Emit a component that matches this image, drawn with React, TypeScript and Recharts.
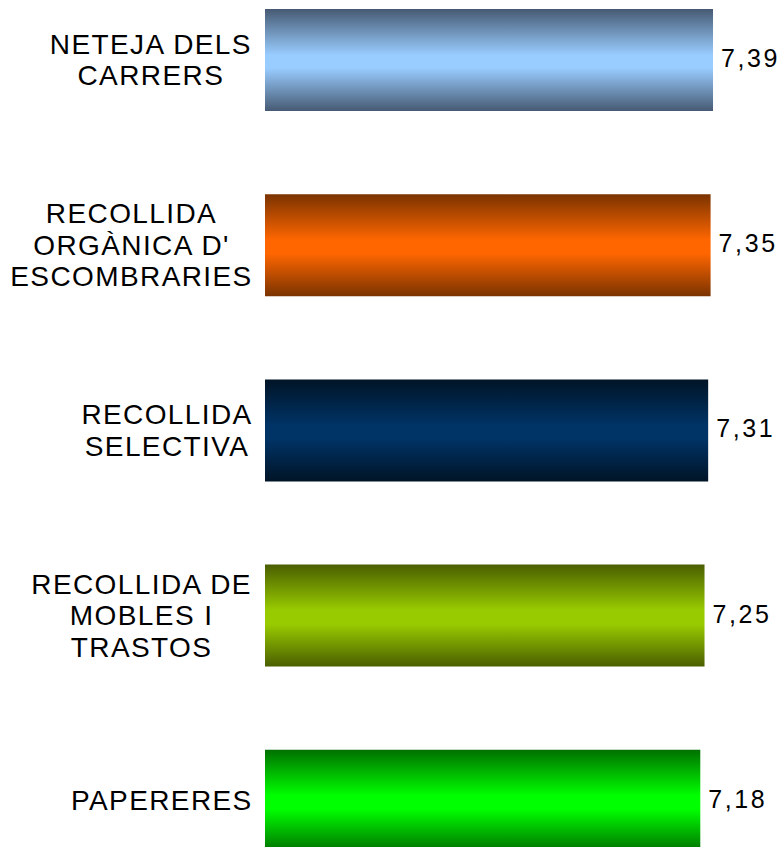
import { BarChart, Bar, XAxis, YAxis, Cell, LabelList } from 'recharts';

const labelLines = [
  ['NETEJA DELS', 'CARRERS'],
  ['RECOLLIDA', "ORGÀNICA D'", 'ESCOMBRARIES'],
  ['RECOLLIDA', 'SELECTIVA'],
  ['RECOLLIDA DE', 'MOBLES I', 'TRASTOS'],
  ['PAPERERES'],
];
const scores = [7.39, 7.35, 7.31, 7.25, 7.18];
const edgeColors = ['#465a73', '#7a3300', '#001426', '#4a5e00', '#007000'];
const midColors = ['#99ccff', '#ff6600', '#003366', '#99cc00', '#00ff00'];

const data = labelLines.map((lines, i) => ({ name: lines.join(' '), value: scores[i] }));

const FONT = "'Liberation Sans', Arial, sans-serif";
const LABEL_SIZE = 28;
const LABEL_SPACING = 1.4;
const LINE_H = 31.5;
const CAP_H = 20;
const LABEL_RIGHT = 252;

let ctx: CanvasRenderingContext2D | null = null;
function textWidth(s: string) {
  if (!ctx) ctx = document.createElement('canvas').getContext('2d');
  if (!ctx) return s.length * LABEL_SIZE * 0.6;
  ctx.font = `${LABEL_SIZE}px 'Liberation Sans'`;
  return ctx.measureText(s).width + LABEL_SPACING * (s.length - 1);
}

function CategoryTick(props: any) {
  const { y, index } = props;
  const lines = labelLines[index] || [String(props.payload?.value ?? '')];
  const maxW = Math.max(...lines.map(textWidth));
  const cx = LABEL_RIGHT - maxW / 2;
  const first = y - ((lines.length - 1) * LINE_H) / 2 + CAP_H / 2;
  return (
    <text textAnchor="middle" fill="#000" fontFamily={FONT} fontSize={LABEL_SIZE} letterSpacing={LABEL_SPACING}>
      {lines.map((l, i) => (
        <tspan key={i} x={cx} y={first + i * LINE_H}>
          {l}
        </tspan>
      ))}
    </text>
  );
}

function ValueLabel(props: any) {
  const { x, y, width, height, value } = props;
  return (
    <text
      x={x + width + 8}
      y={y + height / 2 + 7}
      fill="#000"
      fontFamily={FONT}
      fontSize={25}
      letterSpacing={2.6}
    >
      {Number(value).toFixed(2).replace('.', ',')}
    </text>
  );
}

export default function App() {
  return (
    <div style={{ position: 'absolute', top: 0, left: 0, width: 781, height: 847, overflow: 'hidden', background: '#fff' }}>
      <div style={{ marginTop: -33 }}>
        <BarChart
          width={781}
          height={926}
          data={data}
          layout="vertical"
          margin={{ top: 0, right: 31, bottom: 0, left: 0 }}
        >
          <defs>
            {edgeColors.map((c, i) => (
              <linearGradient key={i} id={`grad${i}`} x1="0" y1="0" x2="0" y2="1">
                <stop offset="0%" stopColor={c} />
                <stop offset="45%" stopColor={midColors[i]} />
                <stop offset="58%" stopColor={midColors[i]} />
                <stop offset="100%" stopColor={c} />
              </linearGradient>
            ))}
          </defs>
          <XAxis type="number" domain={[0, 8]} hide />
          <YAxis
            type="category"
            dataKey="name"
            width={265}
            axisLine={false}
            tickLine={false}
            tick={<CategoryTick />}
            interval={0}
          />
          <Bar dataKey="value" barSize={102} isAnimationActive={false}>
            {data.map((_, i) => (
              <Cell key={i} fill={`url(#grad${i})`} />
            ))}
            <LabelList dataKey="value" content={<ValueLabel />} />
          </Bar>
        </BarChart>
      </div>
    </div>
  );
}
